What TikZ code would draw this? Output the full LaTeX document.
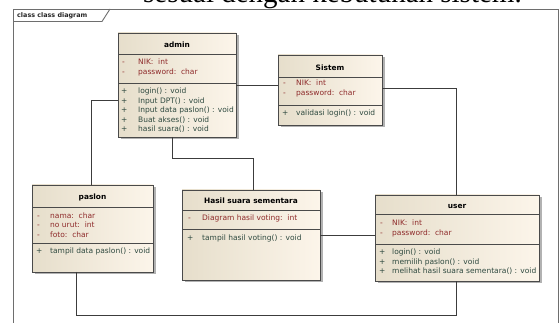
\documentclass[tikz,border=0pt]{standalone}
\usepackage{fontspec}
\setmainfont{Liberation Serif}
\newfontfamily\umlsans{DejaVu Sans}
\usetikzlibrary{calc,shadows}

\definecolor{framegray}{HTML}{6E6E6E}
\definecolor{boxedge}{HTML}{4A4A4A}
\definecolor{fillleft}{HTML}{E6DECB}
\definecolor{fillright}{HTML}{FCF5EA}
\definecolor{attrred}{HTML}{8E2A2A}
\definecolor{opgreen}{HTML}{2F4A40}
\definecolor{wirecol}{HTML}{3C3C3C}

\tikzset{
  classbox/.style={draw=boxedge, line width=0.8pt, left color=fillleft, right color=fillright,
    inner sep=0pt, outer sep=0pt, anchor=north west,
    drop shadow={shadow xshift=2.5pt, shadow yshift=-2.5pt, fill=black!60, opacity=0.5}},
  divider/.style={draw=boxedge, line width=0.8pt},
  umltitle/.style={font=\umlsans\bfseries\fontsize{7.4}{9}\selectfont, inner sep=0pt, anchor=center},
  attrline/.style={font=\umlsans\fontsize{7.5}{9}\selectfont, text=attrred, inner sep=0pt, anchor=base west},
  opline/.style={font=\umlsans\fontsize{7.5}{9}\selectfont, text=opgreen, inner sep=0pt, anchor=base west},
  wire/.style={draw=wirecol, line width=0.8pt},
  framebox/.style={draw=framegray, line width=0.9pt},
}

\begin{document}
\begin{tikzpicture}[x=1pt, y=-1pt]
\useasboundingbox (0,0) rectangle (560,323);
\fill[white] (0,0) rectangle (560,323);

\begin{scope}
  \clip (0,0) rectangle (560,323);
  % running text of the page above the frame
  \node[anchor=base west, inner sep=0pt, font=\fontsize{29}{32}\selectfont] (pagetext) at (143,3) {sesuai dengan kebutuhan sistem.};
  % diagram frame with its name tab
  \draw[framebox] (13,330) -- (13,9) -- (558,9) -- (558,330);
  \draw[framebox] (13,21.5) -- (102,21.5) -- (110,9);
  \node[anchor=base west, inner sep=0pt, font=\umlsans\bfseries\fontsize{6.4}{7}\selectfont, text=black!85] (frametitle) at (17,18) {class class diagram};
\end{scope}

% ---------- admin ----------
\node[classbox, minimum width=118pt, minimum height=104pt] (admin) at (118,33) {};
\draw[divider] ($(admin.north west)+(0,21)$) -- ($(admin.north east)+(0,21)$);
\draw[divider] ($(admin.north west)+(0,50)$) -- ($(admin.north east)+(0,50)$);
\node[umltitle] (admin-t) at ($(admin.north)+(0,12)$) {admin};
\node[attrline] (admin-s1) at (122,64.8) {-};
\node[attrline] (admin-a1) at (138,64.8) {NIK:\ \ int};
\node[attrline] (admin-s2) at (122,74.3) {-};
\node[attrline] (admin-a2) at (138,74.3) {password:\ \ char};
\node[opline] (admin-p1) at (121,93.8) {+};
\node[opline] (admin-o1) at (138,93.8) {login() : void};
\node[opline] (admin-p2) at (121,103.3) {+};
\node[opline] (admin-o2) at (138,103.3) {Input DPT() : void};
\node[opline] (admin-p3) at (121,112.8) {+};
\node[opline] (admin-o3) at (138,112.8) {Input data paslon() : void};
\node[opline] (admin-p4) at (121,122.3) {+};
\node[opline] (admin-o4) at (138,122.3) {Buat akses() : void};
\node[opline] (admin-p5) at (121,131.8) {+};
\node[opline] (admin-o5) at (138,131.8) {hasil suara() : void};

% ---------- Sistem ----------
\node[classbox, minimum width=104pt, minimum height=70pt] (sistem) at (278,55) {};
\draw[divider] ($(sistem.north west)+(0,22)$) -- ($(sistem.north east)+(0,22)$);
\draw[divider] ($(sistem.north west)+(0,50)$) -- ($(sistem.north east)+(0,50)$);
\node[umltitle] (sistem-t) at ($(sistem.north)+(0,12.5)$) {Sistem};
\node[attrline] (sistem-s1) at (283,85.8) {-};
\node[attrline] (sistem-a1) at (296,85.8) {NIK:\ \ int};
\node[attrline] (sistem-s2) at (283,95.3) {-};
\node[attrline] (sistem-a2) at (296,95.3) {password:\ \ char};
\node[opline] (sistem-p1) at (282,115.3) {+};
\node[opline] (sistem-o1) at (296,115.3) {validasi login() : void};

% ---------- paslon ----------
\node[classbox, minimum width=121pt, minimum height=87pt] (paslon) at (32,185) {};
\draw[divider] ($(paslon.north west)+(0,22)$) -- ($(paslon.north east)+(0,22)$);
\draw[divider] ($(paslon.north west)+(0,58)$) -- ($(paslon.north east)+(0,58)$);
\node[umltitle] (paslon-t) at ($(paslon.north)+(0,12)$) {paslon};
\node[attrline] (paslon-s1) at (37,218.3) {-};
\node[attrline] (paslon-a1) at (50,218.3) {nama:\ \ char};
\node[attrline] (paslon-s2) at (37,227.8) {-};
\node[attrline] (paslon-a2) at (50,227.8) {no urut:\ \ int};
\node[attrline] (paslon-s3) at (37,237.3) {-};
\node[attrline] (paslon-a3) at (50,237.3) {foto:\ \ char};
\node[opline] (paslon-p1) at (36,253.8) {+};
\node[opline] (paslon-o1) at (50,253.8) {tampil data paslon() : void};

% ---------- Hasil suara sementara ----------
\node[classbox, minimum width=138pt, minimum height=90pt] (hasil) at (182,190) {};
\draw[divider] ($(hasil.north west)+(0,20)$) -- ($(hasil.north east)+(0,20)$);
\draw[divider] ($(hasil.north west)+(0,39)$) -- ($(hasil.north east)+(0,39)$);
\node[umltitle] (hasil-t) at ($(hasil.north)+(0,11)$) {Hasil suara sementara};
\node[attrline] (hasil-s1) at (188,220.8) {-};
\node[attrline] (hasil-a1) at (202,220.8) {Diagram hasil voting:\ \ int};
\node[opline] (hasil-p1) at (187,240.8) {+};
\node[opline] (hasil-o1) at (202,240.8) {tampil hasil voting() : void};

% ---------- user ----------
\node[classbox, minimum width=164pt, minimum height=86pt] (user) at (375,195) {};
\draw[divider] ($(user.north west)+(0,19)$) -- ($(user.north east)+(0,19)$);
\draw[divider] ($(user.north west)+(0,49)$) -- ($(user.north east)+(0,49)$);
\node[umltitle] (user-t) at ($(user.north)+(0,11)$) {user};
\node[attrline] (user-s1) at (380,225.8) {-};
\node[attrline] (user-a1) at (392,225.8) {NIK:\ \ int};
\node[attrline] (user-s2) at (380,235.3) {-};
\node[attrline] (user-a2) at (392,235.3) {password:\ \ char};
\node[opline] (user-p1) at (379,254.8) {+};
\node[opline] (user-o1) at (392,254.8) {login() : void};
\node[opline] (user-p2) at (379,264.3) {+};
\node[opline] (user-o2) at (392,264.3) {memilih paslon() : void};
\node[opline] (user-p3) at (379,273.8) {+};
\node[opline] (user-o3) at (392,273.8) {melihat hasil suara sementara() : void};

% ---------- association ends ----------
\coordinate (admin-w)  at ($(admin.north west)+(0,67)$);
\coordinate (admin-e)  at ($(admin.north east)+(0,52)$);
\coordinate (admin-s)  at ($(admin.south west)+(54,0)$);
\coordinate (sistem-w) at ($(sistem.north west)+(0,30)$);
\coordinate (sistem-e) at ($(sistem.north east)+(0,33)$);
\coordinate (paslon-n) at ($(paslon.north west)+(59,0)$);
\coordinate (paslon-s) at ($(paslon.south west)+(44,0)$);
\coordinate (hasil-n)  at ($(hasil.north west)+(71,0)$);
\coordinate (hasil-e)  at ($(hasil.north east)+(0,45)$);
\coordinate (user-n)   at ($(user.north west)+(81,0)$);
\coordinate (user-w)   at ($(user.north west)+(0,40)$);
\coordinate (user-s)   at ($(user.south west)+(81,0)$);
\coordinate (admin-bend) at ($(admin-s)+(0,21)$);
\coordinate (paslon-bend) at ($(paslon-s)+(0,43)$);

% ---------- associations ----------
\draw[wire] (admin-e) -- (sistem-w);
\draw[wire] (sistem-e) -| (user-n);
\draw[wire] (admin-w) -| (paslon-n);
\draw[wire] (admin-s) -- (admin-bend) -| (hasil-n);
\draw[wire] (hasil-e) -- (user-w);
\draw[wire] (paslon-s) -- (paslon-bend) -| (user-s);
\end{tikzpicture}
\end{document}
